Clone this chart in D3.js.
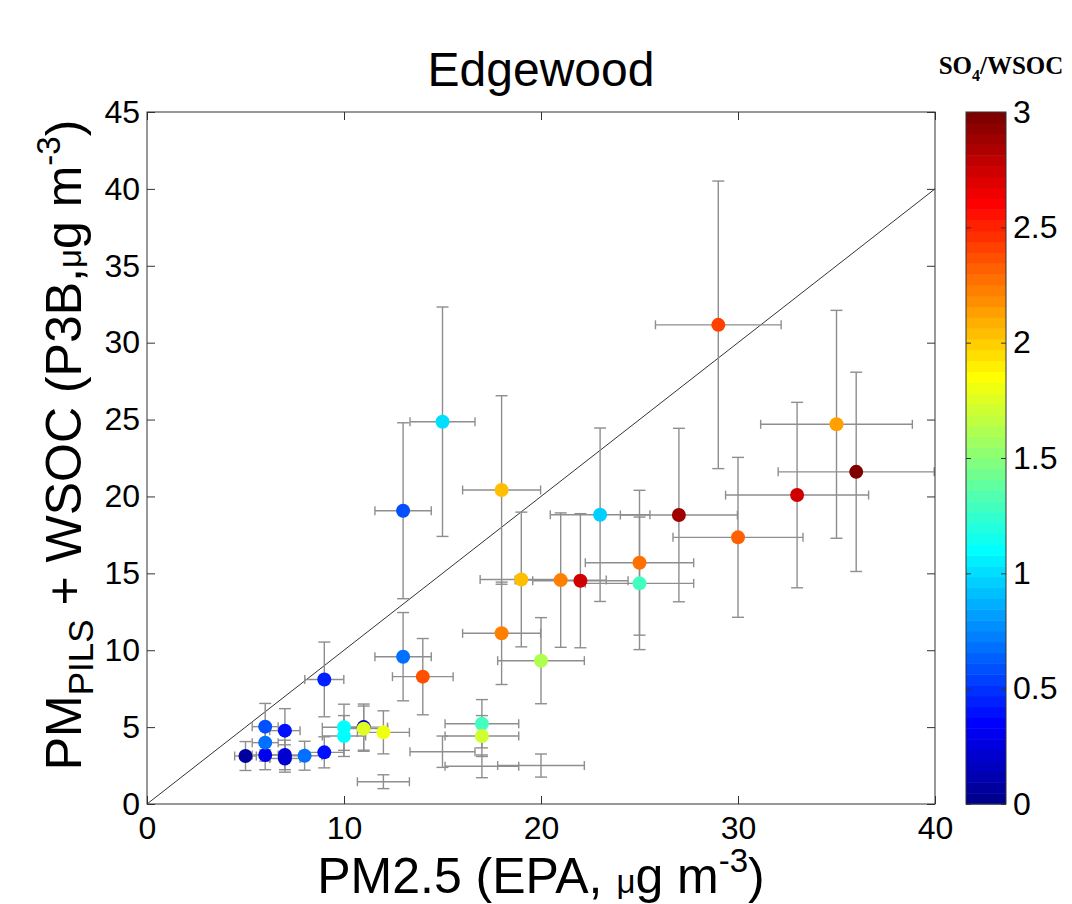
<!DOCTYPE html>
<html><head><meta charset="utf-8">
<script src="https://cdn.jsdelivr.net/npm/d3@7"></script>
<style>body{margin:0;background:#fff}</style>
</head><body>
<svg id="c" width="1072" height="904"></svg>
<script>
// ---- data ----
const pmEPA  = [5,6,6,6,7,7,7,8,9,9,10,10,11,11,12,13,14,13,15,17,17,18,18,19,20,21,22,23,25,25,27,29,30,33,35,36,12,15,17,20];
const pmPILS = [3.12,3.19,3.99,5.03,4.77,3.19,2.96,3.14,3.36,8.1,4.99,4.42,5.0,4.9,4.66,9.58,8.28,19.07,24.86,5.22,4.42,20.42,11.1,14.6,9.32,14.56,14.52,18.81,15.69,14.35,18.79,31.16,17.34,20.09,24.69,21.6,1.45,3.4,2.45,2.5];
const xErr   = [0.55,0.66,0.66,0.66,0.77,0.77,0.77,0.88,0.99,0.99,1.1,1.1,1.21,1.21,1.32,1.43,1.54,1.43,1.65,1.87,1.87,1.98,1.98,2.09,2.2,2.31,2.42,2.53,2.75,2.75,2.97,3.19,3.3,3.63,3.85,3.96,1.32,1.65,1.87,2.2];
const yErr   = [0.94,0.96,1.2,1.51,1.43,0.96,0.89,0.94,1.01,2.43,1.5,1.33,1.5,1.47,1.4,2.87,2.48,5.72,7.46,1.57,1.33,6.13,3.33,4.38,2.8,4.37,4.36,5.64,4.71,4.31,5.64,9.35,5.2,6.03,7.41,6.48,0.45,1.02,0.74,0.75];
const ratio  = [0.05,0.3,0.7,0.6,0.38,0.25,0.2,0.7,0.4,0.45,1.08,1.08,0.15,1.74,1.8,0.7,2.36,0.6,1.03,1.31,1.71,2.04,2.21,2.04,1.64,2.21,2.76,0.94,2.25,1.27,2.9,2.42,2.31,2.72,2.13,2.96,null,null,null,null];
const xTicks = [0,10,20,30,40];
const yTicks = [0,5,10,15,20,25,30,35,40,45];
const cTicks = [0,0.5,1,1.5,2,2.5,3];
const oneToOne = [0,40];

// ---- layout ----
const svg = d3.select("#c");
const FONT = "'Liberation Sans', Arial, Helvetica, sans-serif";
const x = d3.scaleLinear().domain([0,40]).range([147,935]);
const y = d3.scaleLinear().domain([0,45]).range([804,112]);
const cScale = d3.scaleLinear().domain([0,3]).range([804,112]);

const N = 64;
function jet(i){
  const t=(i+1)/N, f=v=>Math.max(0,Math.min(1,v));
  return d3.rgb(255*f(1.5-Math.abs(4*t-3)),255*f(1.5-Math.abs(4*t-2)),255*f(1.5-Math.abs(4*t-1))).toString();
}
const colorOf = v => jet(Math.max(0,Math.min(N-1,Math.floor(v/3*N))));

const data = pmEPA.map((d,i)=>({x:d,y:pmPILS[i],xe:xErr[i],ye:yErr[i],c:ratio[i]}));

svg.append("defs").append("clipPath").attr("id","clip")
  .append("rect").attr("x",147).attr("y",112).attr("width",788).attr("height",692);

const plot = svg.append("g").attr("clip-path","url(#clip)");

// 1:1 line
plot.append("line")
  .attr("x1",x(oneToOne[0])).attr("y1",y(oneToOne[0]))
  .attr("x2",x(oneToOne[1])).attr("y2",y(oneToOne[1]))
  .attr("stroke","#333").attr("stroke-width",1);

// error bars
const eb = plot.append("g").attr("stroke","#8e8e8e").attr("stroke-width",1.4).attr("fill","none");
data.forEach(d=>{
  const cx=x(d.x), cy=y(d.y);
  const xl=x(d.x-d.xe), xr=x(d.x+d.xe), yt=y(d.y+d.ye), yb=y(d.y-d.ye);
  eb.append("line").attr("x1",xl).attr("x2",xr).attr("y1",cy).attr("y2",cy);
  eb.append("line").attr("x1",xl).attr("x2",xl).attr("y1",cy-4.5).attr("y2",cy+4.5);
  eb.append("line").attr("x1",xr).attr("x2",xr).attr("y1",cy-4.5).attr("y2",cy+4.5);
  eb.append("line").attr("x1",cx).attr("x2",cx).attr("y1",yt).attr("y2",yb);
  eb.append("line").attr("x1",cx-6).attr("x2",cx+6).attr("y1",yt).attr("y2",yt);
  eb.append("line").attr("x1",cx-6).attr("x2",cx+6).attr("y1",yb).attr("y2",yb);
});

// markers
plot.append("g").selectAll("circle").data(data.filter(d=>d.c!==null)).join("circle")
  .attr("cx",d=>x(d.x)).attr("cy",d=>y(d.y)).attr("r",7)
  .attr("fill",d=>colorOf(d.c));

// axes
function styleAxis(g, labels){
  g.select(".domain").remove();
  g.selectAll(".tick line").attr("stroke","#333").attr("stroke-width",1);
  g.selectAll("text").attr("font-family",FONT).attr("font-size",32).attr("fill","#000");
  if(!labels) g.selectAll("text").remove();
}
svg.append("g").attr("transform","translate(0,804)")
  .call(d3.axisBottom(x).tickValues(xTicks).tickSize(-8).tickPadding(12).tickFormat(d3.format("d")))
  .call(g=>styleAxis(g,true));
svg.append("g").attr("transform","translate(0,112)")
  .call(d3.axisTop(x).tickValues(xTicks).tickSize(-8))
  .call(g=>styleAxis(g,false));
svg.append("g").attr("transform","translate(147,0)")
  .call(d3.axisLeft(y).tickValues(yTicks).tickSize(-8).tickPadding(7).tickFormat(d3.format("d")))
  .call(g=>styleAxis(g,true));
svg.append("g").attr("transform","translate(935,0)")
  .call(d3.axisRight(y).tickValues(yTicks).tickSize(-8))
  .call(g=>styleAxis(g,false));
svg.append("rect").attr("x",147).attr("y",112).attr("width",788).attr("height",692)
  .attr("fill","none").attr("stroke","#333").attr("stroke-width",1);

// title
svg.append("text").attr("x",541).attr("y",86).attr("text-anchor","middle")
  .attr("font-family",FONT).attr("font-size",48).text("Edgewood");

// x label
const xl = svg.append("text").attr("x",541).attr("y",893).attr("text-anchor","middle")
  .attr("font-family",FONT).attr("font-size",50);
xl.append("tspan").text("PM2.5 (EPA, ");
xl.append("tspan").attr("font-size",33).text("μ");
xl.append("tspan").text("g m");
xl.append("tspan").attr("font-size",33).attr("dy",-21).text("-3");
xl.append("tspan").attr("dy",21).text(")");

// y label
const yl = svg.append("text").attr("transform","translate(81,445) rotate(-90)").attr("text-anchor","middle")
  .attr("font-family",FONT).attr("font-size",50);
yl.append("tspan").text("PM");
yl.append("tspan").attr("font-size",35).attr("dy",12).text("PILS");
yl.append("tspan").attr("dy",-12).text(" + WSOC (P3B,");
yl.append("tspan").attr("font-size",33).text("μ");
yl.append("tspan").text("g m");
yl.append("tspan").attr("font-size",33).attr("dy",-21).text("-3");
yl.append("tspan").attr("dy",21).text(")");

// colorbar
const cbx=966, cbw=40;
const levels = d3.range(N);
svg.append("g").selectAll("rect").data(levels).join("rect")
  .attr("x",cbx).attr("width",cbw)
  .attr("y",i=>cScale((i+1)*3/N)).attr("height",i=>cScale(i*3/N)-cScale((i+1)*3/N)+0.5)
  .attr("fill",i=>jet(i));
svg.append("rect").attr("x",cbx).attr("y",112).attr("width",cbw).attr("height",692)
  .attr("fill","none").attr("stroke","#333").attr("stroke-width",1);
const cAxis = svg.append("g").attr("transform",`translate(${cbx+cbw},0)`)
  .call(d3.axisRight(cScale).tickValues(cTicks).tickSize(-5).tickPadding(7).tickFormat(d=>String(d)));
styleAxis(cAxis,true);
const cAxisL = svg.append("g").attr("transform",`translate(${cbx},0)`)
  .call(d3.axisLeft(cScale).tickValues(cTicks).tickSize(-5));
styleAxis(cAxisL,false);

const ct = svg.append("text").attr("x",1001).attr("y",74).attr("text-anchor","middle")
  .attr("font-family","'Liberation Serif','Times New Roman',serif").attr("font-weight","bold").attr("font-size",25);
ct.append("tspan").text("SO");
ct.append("tspan").attr("font-size",16).attr("dy",7).text("4");
ct.append("tspan").attr("dy",-7).text("/WSOC");
</script>
</body></html>
